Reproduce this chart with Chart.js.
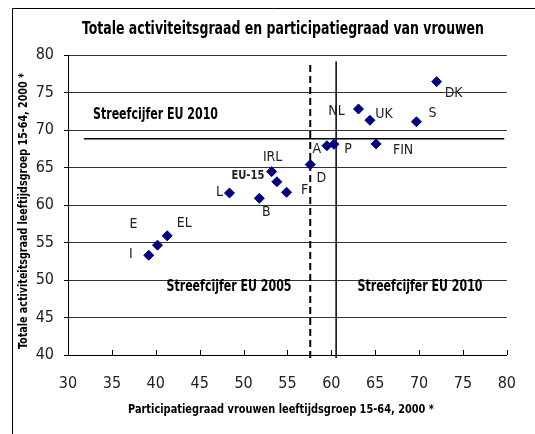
<!DOCTYPE html>
<html lang="nl">
<head>
    <meta charset="UTF-8">
    <title>Totale activiteitsgraad en participatiegraad van vrouwen</title>
    <script src="https://cdn.jsdelivr.net/npm/chart.js"></script>
    <style>
        html, body { margin: 0; padding: 0; background: #fff; }
        #wrap { width: 535px; height: 434px; position: relative; }
    </style>
</head>
<body>
    <div id="wrap"><canvas id="chart" width="535" height="434"></canvas></div>
    <script>
        // Landen
        const countries = ['DK', 'NL', 'UK', 'S', 'FIN', 'A', 'P', 'D', 'IRL', 'EU-15', 'F', 'L', 'B', 'EL', 'E', 'I'];
        // Participatiegraad vrouwen 15-64, 2000
        const womenRate = [72.0, 63.1, 64.4, 69.7, 65.1, 59.5, 60.3, 57.6, 53.2, 53.8, 54.9, 48.4, 51.8, 41.3, 40.2, 39.2];
        // Totale activiteitsgraad 15-64, 2000
        const totalRate = [76.45, 72.8, 71.3, 71.1, 68.15, 67.9, 68.1, 65.4, 64.45, 63.1, 61.7, 61.6, 60.9, 55.9, 54.65, 53.3];

        // Streefcijfers (lijnen)
        const target2010Total = 68.85;
        const target2010TotalFrom = [31.8, 79.7];
        const target2005Women = 57.6;
        const target2010Women = 60.55;
        const targetLineSpan = [39.6, 79.15];

        const xTicks = [30, 35, 40, 45, 50, 55, 60, 65, 70, 75, 80];
        const yTicks = [40, 45, 50, 55, 60, 65, 70, 75, 80];

        // label offsets in px relative to the diamond
        const labelOffsets = [
            [17, 12], [-22, 2], [14, -6], [16, -8], [27, 6], [-10, 4], [14, 5], [11, 14],
            [1, -14], [-29, -6], [18, -2], [-10, -1], [7, 14], [17, -12], [-24, -21], [-18, -1]
        ];

        const NARROW = "'Liberation Sans Narrow', 'Arial Narrow', 'DejaVu Sans Condensed', sans-serif";

        // draw text centred at (x, y), squeezed horizontally to a given width
        function fitText(ctx, text, x, y, font, width, angle) {
            ctx.save();
            ctx.font = font;
            const w = ctx.measureText(text).width;
            ctx.translate(x, y);
            if (angle) ctx.rotate(angle);
            ctx.scale(width / w, 1);
            ctx.fillText(text, 0, 0);
            ctx.restore();
        }

        const decorPlugin = {
            id: 'decor',
            beforeDraw(chart) {
                const ctx = chart.ctx;
                ctx.save();
                ctx.fillStyle = '#fff';
                ctx.fillRect(0, 0, chart.width, chart.height);
                // frame
                ctx.strokeStyle = '#000';
                ctx.lineWidth = 1;
                ctx.beginPath();
                ctx.moveTo(12.5, chart.height);
                ctx.lineTo(12.5, 8.5);
                ctx.lineTo(chart.width, 8.5);
                ctx.stroke();
                ctx.restore();
            },
            afterDraw(chart) {
                const ctx = chart.ctx;
                const xs = chart.scales.x, ys = chart.scales.y;
                ctx.save();
                // inner tick marks on x-axis
                ctx.strokeStyle = '#000';
                ctx.lineWidth = 1;
                ctx.beginPath();
                xTicks.forEach(v => {
                    const px = Math.round(xs.getPixelForValue(v)) + 0.5;
                    ctx.moveTo(px, ys.bottom);
                    ctx.lineTo(px, ys.bottom - 5);
                });
                ctx.stroke();

                ctx.fillStyle = '#000';
                ctx.textAlign = 'center';
                ctx.textBaseline = 'middle';
                fitText(ctx, 'Totale activiteitsgraad en participatiegraad van vrouwen', 283, 30, "bold 17px " + NARROW, 402);
                fitText(ctx, 'Participatiegraad vrouwen leeftijdsgroep 15-64, 2000 *', 281, 410, "bold 13px " + NARROW, 306);
                fitText(ctx, 'Totale activiteitsgraad leeftijdsgroep 15-64, 2000 *', 24, 211, "bold 13px " + NARROW, 276, -Math.PI / 2);
                // target areas
                fitText(ctx, 'Streefcijfer EU 2010', 155.5, 115, "bold 15px " + NARROW, 125);
                fitText(ctx, 'Streefcijfer EU 2005', 229, 287, "bold 15px " + NARROW, 125);
                fitText(ctx, 'Streefcijfer EU 2010', 420, 287, "bold 15px " + NARROW, 125);

                // point labels
                const meta = chart.getDatasetMeta(0);
                ctx.fillStyle = '#222';
                meta.data.forEach((pt, i) => {
                    const name = countries[i];
                    const x = pt.x + labelOffsets[i][0], y = pt.y + labelOffsets[i][1];
                    if (name === 'EU-15') {
                        fitText(ctx, name, x, y, "bold 13px " + NARROW, 33);
                    } else {
                        ctx.font = "14px " + NARROW;
                        ctx.fillText(name, x, y);
                    }
                });
                ctx.restore();
            }
        };

        const points = countries.map((c, i) => ({ x: womenRate[i], y: totalRate[i] }));

        new Chart(document.getElementById('chart'), {
            type: 'scatter',
            data: {
                datasets: [
                    {
                        label: 'Landen',
                        data: points,
                        pointStyle: 'rectRot',
                        pointRadius: 5,
                        pointHoverRadius: 5,
                        backgroundColor: '#000080',
                        borderColor: '#000080',
                        borderWidth: 1
                    },
                    {
                        label: 'Streefcijfer 2010 totaal',
                        data: target2010TotalFrom.map(x => ({ x: x, y: target2010Total })),
                        showLine: true,
                        pointRadius: 0,
                        borderColor: '#000',
                        borderWidth: 1.5
                    },
                    {
                        label: 'Streefcijfer 2010 vrouwen',
                        data: targetLineSpan.map(y => ({ x: target2010Women, y: y })),
                        showLine: true,
                        pointRadius: 0,
                        borderColor: '#000',
                        borderWidth: 1.5
                    },
                    {
                        label: 'Streefcijfer 2005 vrouwen',
                        data: targetLineSpan.map(y => ({ x: target2005Women, y: y })),
                        showLine: true,
                        pointRadius: 0,
                        borderColor: '#000',
                        borderWidth: 2,
                        borderDash: [7, 4]
                    }
                ]
            },
            options: {
                responsive: false,
                animation: false,
                clip: false,
                layout: { padding: { top: 55, right: 16, bottom: 0, left: 0 } },
                plugins: {
                    legend: { display: false },
                    title: { display: false },
                    tooltip: { enabled: false }
                },
                scales: {
                    x: {
                        type: 'linear',
                        min: xTicks[0],
                        max: xTicks[xTicks.length - 1],
                        afterBuildTicks: s => { s.ticks = xTicks.map(v => ({ value: v })); },
                        afterFit: s => { s.height = 79; },
                        border: { display: true, color: '#000', width: 1 },
                        grid: { display: true, drawOnChartArea: false, drawTicks: false },
                        ticks: { color: '#222', padding: 19, maxRotation: 0, font: { family: NARROW, size: 16 } }
                    },
                    y: {
                        type: 'linear',
                        min: yTicks[0],
                        max: yTicks[yTicks.length - 1],
                        afterBuildTicks: s => { s.ticks = yTicks.map(v => ({ value: v })); },
                        afterFit: s => { s.width = 68; },
                        border: { display: true, color: '#000', width: 1 },
                        grid: {
                            color: '#333',
                            lineWidth: 1,
                            borderDash: [8, 5],
                            tickLength: 4,
                            tickColor: '#000',
                            tickBorderDash: []
                        },
                        ticks: { color: '#222', padding: 10, font: { family: NARROW, size: 16 } }
                    }
                }
            },
            plugins: [decorPlugin]
        });
    </script>
</body>
</html>
